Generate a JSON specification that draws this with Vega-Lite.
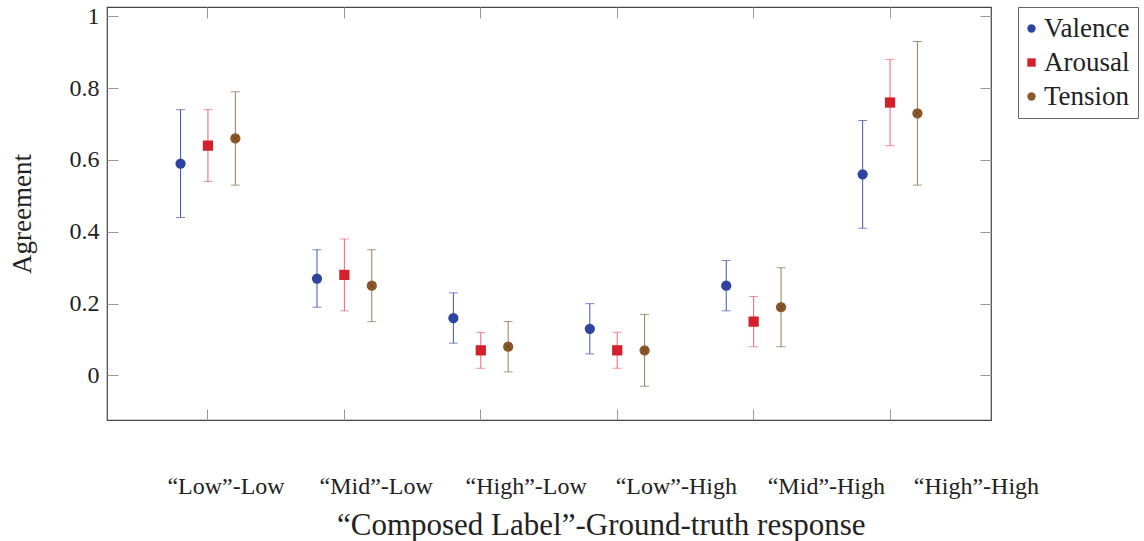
{
  "$schema": "https://vega.github.io/schema/vega-lite/v6.json",
  "width": 884,
  "height": 413,
  "autosize": "none",
  "padding": {"left": 107, "top": 7, "right": 153, "bottom": 121},
  "background": "white",
  "config": {
    "font": "Liberation Serif",
    "view": {"stroke": "#444", "strokeWidth": 1.2},
    "axis": {"grid": false, "domain": false, "tickColor": "#999", "tickSize": -11, "labelFont": "Liberation Serif", "titleFont": "Liberation Serif", "labelColor": "#222", "titleColor": "#222", "titleFontWeight": "normal"},
    "legend": {"labelFont": "Liberation Serif"}
  },
  "data": {"values": [
    {"cat": "“Low”-Low", "dim": "Valence", "m": 0.59, "lo": 0.44, "hi": 0.74},
    {"cat": "“Low”-Low", "dim": "Arousal", "m": 0.64, "lo": 0.54, "hi": 0.74},
    {"cat": "“Low”-Low", "dim": "Tension", "m": 0.66, "lo": 0.53, "hi": 0.79},
    {"cat": "“Mid”-Low", "dim": "Valence", "m": 0.27, "lo": 0.19, "hi": 0.35},
    {"cat": "“Mid”-Low", "dim": "Arousal", "m": 0.28, "lo": 0.18, "hi": 0.38},
    {"cat": "“Mid”-Low", "dim": "Tension", "m": 0.25, "lo": 0.15, "hi": 0.35},
    {"cat": "“High”-Low", "dim": "Valence", "m": 0.16, "lo": 0.09, "hi": 0.23},
    {"cat": "“High”-Low", "dim": "Arousal", "m": 0.07, "lo": 0.02, "hi": 0.12},
    {"cat": "“High”-Low", "dim": "Tension", "m": 0.08, "lo": 0.01, "hi": 0.15},
    {"cat": "“Low”-High", "dim": "Valence", "m": 0.13, "lo": 0.06, "hi": 0.20},
    {"cat": "“Low”-High", "dim": "Arousal", "m": 0.07, "lo": 0.02, "hi": 0.12},
    {"cat": "“Low”-High", "dim": "Tension", "m": 0.07, "lo": -0.03, "hi": 0.17},
    {"cat": "“Mid”-High", "dim": "Valence", "m": 0.25, "lo": 0.18, "hi": 0.32},
    {"cat": "“Mid”-High", "dim": "Arousal", "m": 0.15, "lo": 0.08, "hi": 0.22},
    {"cat": "“Mid”-High", "dim": "Tension", "m": 0.19, "lo": 0.08, "hi": 0.30},
    {"cat": "“High”-High", "dim": "Valence", "m": 0.56, "lo": 0.41, "hi": 0.71},
    {"cat": "“High”-High", "dim": "Arousal", "m": 0.76, "lo": 0.64, "hi": 0.88},
    {"cat": "“High”-High", "dim": "Tension", "m": 0.73, "lo": 0.53, "hi": 0.93}
  ]},
  "encoding": {
    "xOffset": {"field": "dim", "type": "nominal", "sort": ["Valence", "Arousal", "Tension"],
      "scale": {"paddingInner": 0, "paddingOuter": 0.99}}
  },
  "layer": [
    {
      "mark": {"type": "point", "opacity": 0},
      "encoding": {
        "x": {"field": "cat", "type": "nominal", "sort": null,
          "scale": {"range": [43.5, 944], "paddingInner": 0, "paddingOuter": 0},
          "axis": {"orient": "bottom", "ticks": false, "title": "“Composed Label”-Ground-truth response", "labelAngle": 0, "labelFontSize": 24, "titleFontSize": 31, "labelPadding": 54, "titlePadding": 12}},
        "xOffset": {"value": 0},
        "y": {"field": "m", "type": "quantitative", "axis": null}
      }
    },
    {
      "mark": {"type": "rule", "strokeWidth": 1},
      "encoding": {
        "x": {"field": "cat", "type": "nominal", "sort": null,
          "scale": {"paddingInner": 0, "paddingOuter": 0.24},
          "axis": {"orient": "bottom", "labels": false, "title": null}},
        "y": {"field": "lo", "type": "quantitative", "scale": {"domain": [-0.124, 1.026], "nice": false, "zero": false},
          "axis": {"orient": "left", "title": "Agreement", "values": [0, 0.2, 0.4, 0.6, 0.8, 1], "format": "~g", "labelFontSize": 24, "titleFontSize": 27, "labelPadding": 19, "titlePadding": 33}},
        "y2": {"field": "hi"},
        "stroke": {"field": "dim", "type": "nominal", "legend": null,
          "scale": {"domain": ["Arousal", "Tension", "Valence"], "range": ["#f0646c", "#9a7a58", "#4254aa"]}}
      }
    },
    {
      "mark": {"type": "tick", "size": 9, "thickness": 1},
      "encoding": {
        "x": {"field": "cat", "type": "nominal", "sort": null,
          "scale": {"paddingInner": 0, "paddingOuter": 0.24},
          "axis": {"orient": "top", "labels": false, "title": null}},
        "y": {"field": "lo", "type": "quantitative",
          "axis": {"orient": "right", "labels": false, "title": null, "values": [0, 0.2, 0.4, 0.6, 0.8, 1]}},
        "fill": {"field": "dim", "type": "nominal", "legend": null,
          "scale": {"domain": ["Arousal", "Valence", "Tension"], "range": ["#f0646c", "#4254aa", "#8a6a48"]}}
      }
    },
    {
      "mark": {"type": "tick", "size": 9, "thickness": 1},
      "encoding": {
        "x": {"field": "cat", "type": "nominal", "sort": null,
          "scale": {"paddingInner": 0, "paddingOuter": 0.24}, "axis": null},
        "y": {"field": "hi", "type": "quantitative", "axis": null},
        "fill": {"field": "dim", "type": "nominal", "legend": null}
      }
    },
    {
      "mark": {"type": "point", "filled": true, "opacity": 1, "size": 105},
      "encoding": {
        "x": {"field": "cat", "type": "nominal", "sort": null,
          "scale": {"paddingInner": 0, "paddingOuter": 0.24}, "axis": null},
        "y": {"field": "m", "type": "quantitative", "axis": null},
        "color": {"field": "dim", "type": "nominal", "sort": ["Valence", "Arousal", "Tension"],
          "scale": {"domain": ["Valence", "Arousal", "Tension"], "range": ["#2e449e", "#d4202a", "#8c5a2a"]},
          "legend": {"title": null, "orient": "right", "offset": 26, "labelFont": "Liberation Serif", "labelFontSize": 27, "labelColor": "#222", "symbolSize": 70, "strokeColor": "#666", "padding": 8, "rowPadding": 6, "labelOffset": -1, "symbolOffset": -8, "fillColor": "white"}},
        "shape": {"field": "dim", "type": "nominal", "sort": ["Valence", "Arousal", "Tension"],
          "scale": {"domain": ["Valence", "Arousal", "Tension"], "range": ["circle", "square", "circle"]},
          "legend": {"title": null, "orient": "right", "offset": 26, "labelFont": "Liberation Serif", "labelFontSize": 27, "labelColor": "#222", "symbolSize": 70, "strokeColor": "#666", "padding": 8, "rowPadding": 6, "labelOffset": -1, "symbolOffset": -8, "fillColor": "white"}}
      }
    },
    {
      "transform": [{"filter": "datum.dim === 'Tension'"}],
      "mark": {"type": "point", "shape": "M-0.7,-0.7L0.7,0.7M-0.7,0.7L0.7,-0.7", "size": 90, "stroke": "#5a3a16", "strokeWidth": 0.8, "filled": false, "opacity": 0.8},
      "encoding": {
        "x": {"field": "cat", "type": "nominal", "sort": null,
          "scale": {"paddingInner": 0, "paddingOuter": 0.24}, "axis": null},
        "y": {"field": "m", "type": "quantitative", "axis": null}
      }
    }
  ],
  "resolve": {"axis": {"x": "independent", "y": "independent"}, "scale": {"x": "independent"}}
}
